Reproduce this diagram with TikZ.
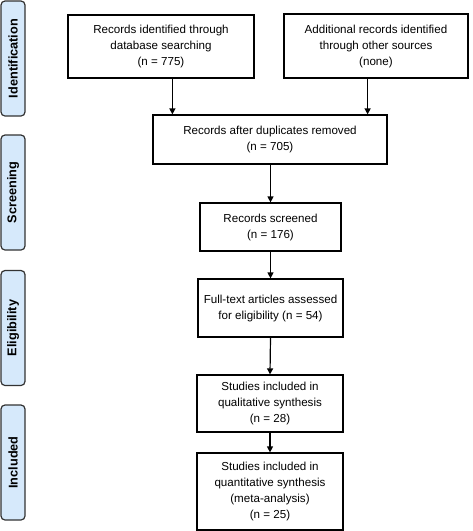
\documentclass[tikz,border=0pt]{standalone}
\usepackage{fontspec}
\setmainfont{Liberation Sans}
\usetikzlibrary{arrows.meta}
\definecolor{bandblue}{HTML}{D6E9FB}
\definecolor{bandline}{HTML}{333333}
\tikzset{
  box/.style={draw=black, line width=1.2pt, fill=white, align=center, inner sep=0pt,
    font=\fontsize{11.6}{16}\selectfont},
  band/.style={draw=bandline, line width=1.2pt, fill=bandblue, rounded corners=4pt,
    rotate=90, minimum width=115pt, minimum height=24pt, inner sep=0pt,
    font=\bfseries\fontsize{12.7}{15}\selectfont},
  arr/.style={line width=1.2pt, -{Triangle[length=6pt,width=6pt]}}
}
\begin{document}
\begin{tikzpicture}[x=1pt,y=-1pt]
\useasboundingbox (0,0) rectangle (473,531);
% phase bands
\node[band] (p1) at (13,58.5) {Identification};
\node[band] (p2) at (13,192.5) {Screening};
\node[band] (p3) at (13,328) {Eligibility};
\node[band] (p4) at (13,462.5) {Included};
% boxes
\node[box, minimum width=186pt, minimum height=63pt] (b1) at (161,46.5)
  {Records identified through\\database searching\\(n = 775)};
\node[box, minimum width=184pt, minimum height=64pt] (b2) at (376,46)
  {Additional records identified\\through other sources\\(none)};
\node[box, minimum width=234pt, minimum height=49pt] (b3) at (270,139.5)
  {Records after duplicates removed\\(n = 705)};
\node[box, minimum width=141pt, minimum height=48pt] (b4) at (270.5,227)
  {Records screened\\(n = 176)};
\node[box, minimum width=145pt, minimum height=58pt] (b5) at (270.5,308)
  {\raisebox{3pt}{\begin{tabular}{@{}c@{}}Full-text articles assessed\\for eligibility (n = 54)\end{tabular}}};
\node[box, minimum width=146pt, minimum height=57pt] (b6) at (270,403.5)
  {Studies included in\\qualitative synthesis\\(n = 28)};
\node[box, minimum width=146pt, minimum height=77pt] (b7) at (270,491.5)
  {Studies included in\\quantitative synthesis\\(meta-analysis)\\(n = 25)};
% arrow anchors
\coordinate (a1) at ([xshift=20pt]b3.north west);
\coordinate (a2) at ([xshift=-20pt]b3.north east);
\draw[arr] (b1.south -| a1) -- (a1);
\draw[arr] (b2.south -| a2) -- (a2);
\draw[arr] (b3.south -| b4.north) -- (b4.north);
\draw[arr] (b4.south) -- (b5.north);
\draw[arr] (b5.south) -- (b6.north);
\draw[arr] (b6.south) -- (b7.north);
\end{tikzpicture}
\end{document}
